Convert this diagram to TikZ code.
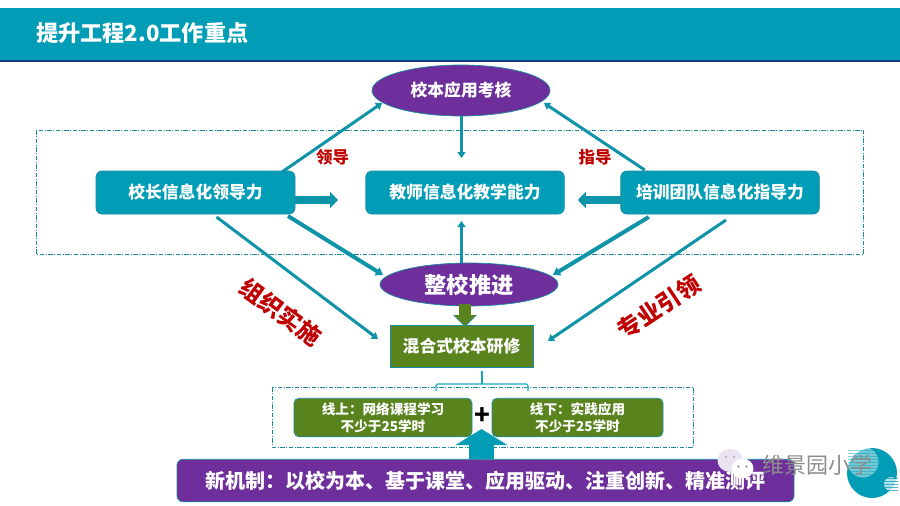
\documentclass[tikz,border=0pt]{standalone}
\usepackage{fontspec}
\setmainfont{Noto Sans CJK SC}
\usetikzlibrary{arrows.meta,calc,shapes.geometric,patterns}
\definecolor{teal1}{HTML}{019DB6}
\definecolor{teal2}{HTML}{0E93A8}
\definecolor{teal3}{HTML}{1AA8C4}
\definecolor{edge1}{HTML}{1B8CA0}
\definecolor{navy1}{HTML}{143F7F}
\definecolor{purple1}{HTML}{6E2F9C}
\definecolor{green1}{HTML}{58831D}
\definecolor{red1}{HTML}{C00000}
\definecolor{mark1}{HTML}{8C8C8C}
\definecolor{bubble1}{HTML}{E9E4F0}
\tikzset{
  x=1pt,y=-1pt,
  every node/.style={inner sep=0,outer sep=0,font=\bfseries},
  tealbox/.style={rectangle,rounded corners=6,fill=teal1,draw=edge1,line width=.7,text=white,minimum height=43,font=\bfseries\fontsize{16.8}{20}\selectfont},
  oval/.style={ellipse,fill=purple1,draw=edge1,line width=.7,text=white},
  greenbox/.style={rectangle,rounded corners=5,fill=green1,draw=edge1,line width=.8,text=white,minimum height=38.5,minimum width=178,align=center,font=\bfseries\fontsize{13.6}{16.7}\selectfont},
  frameline/.style={draw=edge1,line width=.7,dash pattern=on 4.5 off 1.5 on 1 off 1.5},
  thinarrow/.style={draw=teal2,line width=3,-{Triangle[length=6,width=8]}},
  blockarrow/.style={draw=teal2,line width=8,-{Triangle[length=8,width=16]}},
  redtag/.style={text=red1,font=\bfseries\fontsize{16.5}{20}\selectfont},
  redbig/.style={text=red1,font=\bfseries\fontsize{23.5}{26}\selectfont},
}
\begin{document}
\begin{tikzpicture}
\useasboundingbox (0,0) rectangle (900,506);
% header band
\fill[teal1] (0,8) rectangle (900,60);
\fill[navy1] (0,60) rectangle (900,62);
\node[anchor=west,text=white,font=\bfseries\fontsize{22.2}{26}\selectfont] (title) at (36,33.5) {提升工程2.0工作重点};

% dash-dot frames
\path[frameline] (36,130) rectangle (863.5,254);
\path[frameline] (272,387) rectangle (693,447);

% main nodes
\node[oval,minimum width=178,minimum height=51,font=\bfseries\fontsize{16.8}{20}\selectfont] (exam) at (461,90.5) {校本应用考核};
\node[tealbox,minimum width=199] (leader) at (195.5,192.5) {校长信息化领导力};
\node[tealbox,minimum width=198.5] (teacher) at (465,192.5) {教师信息化教学能力};
\node[tealbox,minimum width=198.5] (trainer) at (720,192.5) {培训团队信息化指导力};
\node[oval,minimum width=178,minimum height=43,font=\bfseries\fontsize{22.3}{26}\selectfont] (school) at (469,284.5) {整校推进};
\node[rectangle,fill=green1,draw=edge1,line width=.8,text=white,minimum width=143,minimum height=42,font=\bfseries\fontsize{16.8}{20}\selectfont] (mixed) at (461.5,346) {混合式校本研修};

% bottom bar and the arrow rising from it
\node[rectangle,rounded corners=6,fill=purple1,draw=edge1,line width=.7,text=white,minimum width=617,minimum height=42.5,font=\bfseries\fontsize{20}{24}\selectfont] (bar) at (485.5,480.5) {新机制：以校为本、基于课堂、应用驱动、注重创新、精准测评};
\coordinate (plustip) at (481.5,429);
\draw[draw=teal1,line width=25,-{Triangle[length=16,width=51]}] (plustip |- bar.north) -- (plustip);

% online and offline boxes
\node[greenbox] (online) at (383,417.5) {线上：网络课程学习\\不少于25学时};
\node[greenbox,minimum width=171] (offline) at (577.5,417.5) {线下：实践应用\\不少于25学时};
\node[text=black,font=\bfseries\fontsize{26}{28}\selectfont] (plus) at (482,416) {+};

% bracket under the mixed box
\draw[teal3,line width=1.1] ($(mixed.south)+(20.5,4)$) -- ($(mixed.south)+(20.5,17)$);
\draw[teal3,line width=1.1,rounded corners=1.5] ($(mixed.south)+(-25.5,24)$) -- ($(mixed.south)+(-25.5,17)$) -- ($(mixed.south)+(66.5,17)$) -- ($(mixed.south)+(66.5,24)$);

% connectors
\draw[thinarrow] ($(leader.north east)+(-13,1)$) -- ($(exam.west)+(10,12.5)$);
\draw[thinarrow] ($(trainer.north west)+(24,-1)$) -- ($(exam.east)+(-6,12.5)$);
\draw[thinarrow] (exam.south -| {$(teacher.north)+(-3.5,0)$}) -- ($(teacher.north)+(-3.5,-13)$);
\draw[thinarrow,line width=3.4] (school.north -| {$(teacher.south)+(-3.5,0)$}) -- ($(teacher.south)+(-3.5,7)$);
\draw[blockarrow] ($(leader.east)+(0,7.5)$) -- ($(leader.east)+(43,7.5)$);
\draw[blockarrow] ($(trainer.west)+(0,7.5)$) -- ($(trainer.west)+(-43,7.5)$);
\draw[thinarrow,line width=4,-{Triangle[length=7,width=9]}] ($(leader.south east)+(-7,2)$) -- ($(school.west)+(3,-9.5)$);
\draw[thinarrow,line width=4,-{Triangle[length=7,width=9]}] ($(trainer.south west)+(28,3)$) -- ($(school.east)+(-5,-9.5)$);
\draw[thinarrow] ($(leader.south)+(21,3)$) -- ($(mixed.west)+(-12,-7)$);
\draw[thinarrow] ($(trainer.south)+(6,6)$) -- ($(mixed.east)+(15,-5)$);
\draw[draw=edge1,line width=12.6,-{Triangle[length=12,width=23]}] (school.south) ++(-4,-2.5) -- ++(0,23.5);
\draw[draw=green1,line width=11.4,-{Triangle[length=11,width=21]}] (school.south) ++(-4,-2.5) -- ++(0,22.5);

% red captions
\node[redtag] (lead) at (332.5,157.5) {领导};
\node[redtag] (guide) at (595,157.5) {指导};
\node[redbig,rotate=-36] (org) at (281,312) {组织实施};
\node[redbig,rotate=33.5] (prof) at (659,307) {专业引领};

% corner badge
\fill[teal1] (872,473) circle (25);
\fill[white,opacity=.45] (863,462) circle (15.5);
\foreach \yy in {450,453,...,476} {\fill[teal1,opacity=.45] (848,\yy) rectangle (878,\yy+1);}
\fill[white,opacity=.7] (891,484) circle (7);
\foreach \yy in {478,481,...,490} {\fill[teal1,opacity=.7] (884,\yy) rectangle (898,\yy+1);}

% chat bubbles
\fill[bubble1] (730,460.5) ellipse (12.5 and 11.5);
\fill[mark1] (726,457) circle (.8) (734,457) circle (.8);
\fill[white] (742.5,468.5) ellipse (11 and 10);
\fill[purple1!70] (738.5,466.5) circle (1.1) (746.5,466.5) circle (1.1);
\node[anchor=west,text=mark1,font=\mdseries\fontsize{22}{24}\selectfont] (brand) at (762,465.5) {维景园小学};
\end{tikzpicture}
\end{document}
